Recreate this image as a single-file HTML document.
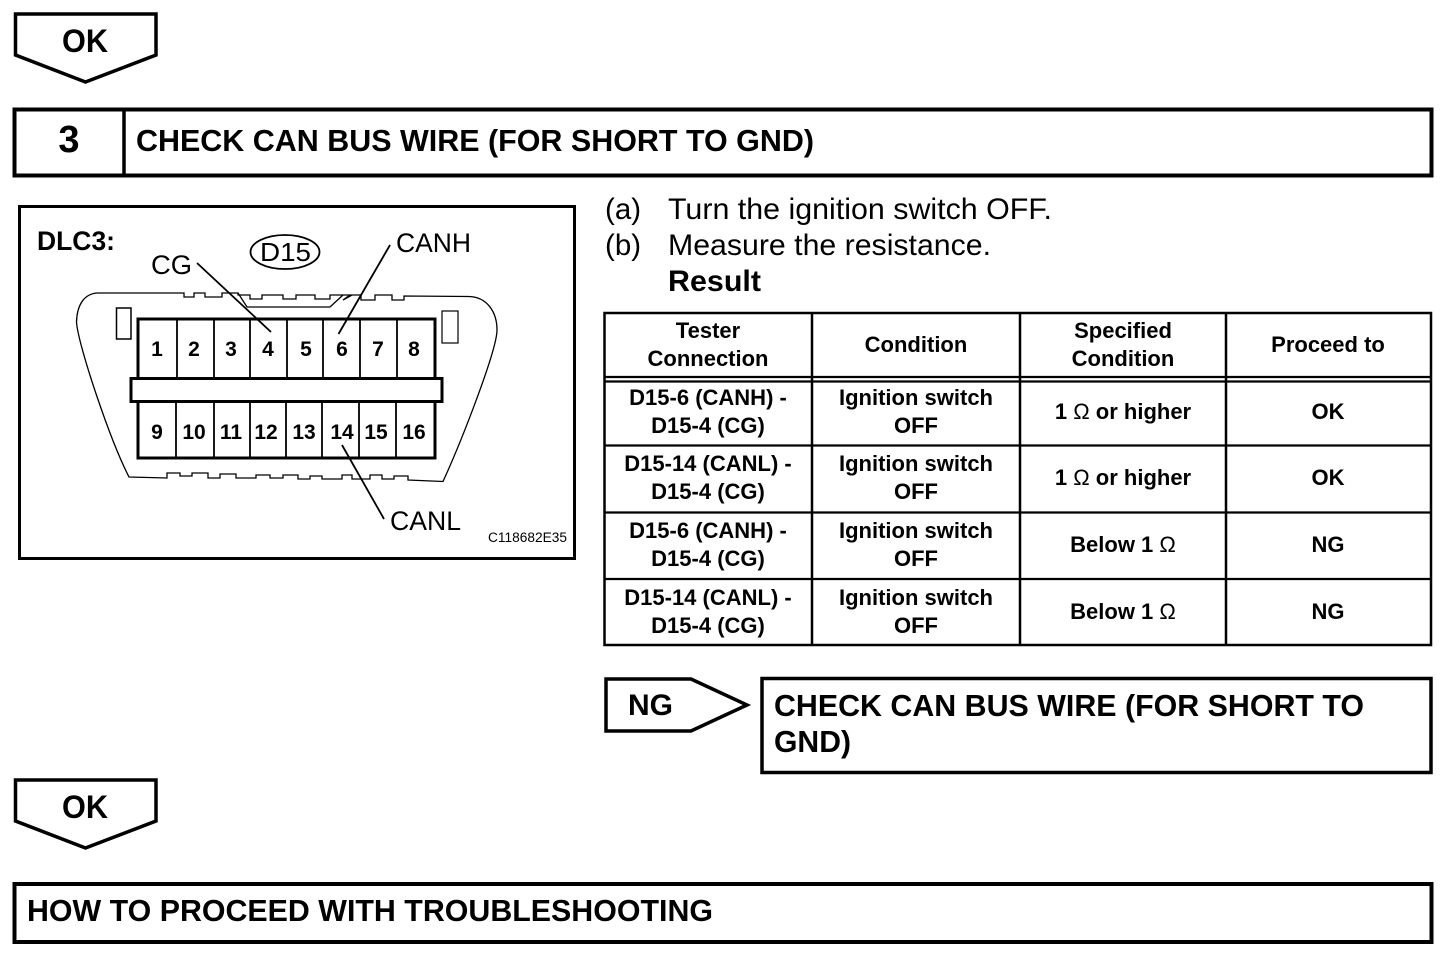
<!DOCTYPE html>
<html>
<head>
<meta charset="utf-8">
<style>
html,body{margin:0;padding:0;background:#fff}
svg{display:block}
text{font-family:"Liberation Sans",sans-serif;fill:#000}
.b{font-weight:bold}
.t{font-weight:bold;font-size:22px;text-anchor:middle}
.n{font-size:21px;text-anchor:middle;font-weight:bold}
.h{font-weight:bold;font-size:31px}
.r{font-size:29.5px}
.l{font-size:27px}
</style>
</head>
<body>
<svg width="1456" height="970" viewBox="0 0 1456 970" xmlns="http://www.w3.org/2000/svg">
<g fill="none" stroke="#000">
  <!-- OK arrows -->
  <path d="M15.5 14H156V55L85.500 82L15.500 55Z" stroke-width="3.500"/>
  <path d="M15.500 780H156V821L85.500 848L15.500 821Z" stroke-width="3.500"/>
  <!-- header -->
  <rect x="14.500" y="109.500" width="1417" height="66" stroke-width="4"/>
  <line x1="124" y1="109" x2="124" y2="176" stroke-width="3.500"/>
  <!-- diagram -->
  <rect x="19.500" y="206.500" width="555" height="352" stroke-width="3"/>
  <path d="M171 293H97C84 294 77 305 76.500 322C78 345 110 440 129 477L167 478V473H180V476H192V473H208V478H220V474H236V478H256V475H270V478H283V475H298V479H310V476H322V479H342V475H352V479H370V475H382V479H394V476H408V480L443 481.500C462 440 497 350 497 330C497 312 487 297 469 296.500L404 296V300H392V295H375V300H361V295H352L343 300L350 295H330V299H315V295H296V299H283V295H262V299H250V295H238V293H222V297H205V293H194V297H184V293H171" stroke-width="1.300"/>
  <path d="M238 293L247 307H330L343 295" stroke-width="1.300"/>
  <rect x="116.500" y="308" width="14.500" height="31" stroke-width="1.500"/>
  <rect x="442" y="311" width="16" height="32" stroke-width="1.200"/>
  <!-- connector pins -->
  <rect x="138" y="319" width="297" height="139" stroke-width="3"/>
  <path d="M177 319V378M214 319V378M250 319V378M287 319V378M323 319V378M360 319V378M397 319V378" stroke-width="1.800"/>
  <path d="M176 401V458M214 401V458M250 401V458M286 401V458M322 401V458M359 401V458M396 401V458" stroke-width="1.800"/>
  <rect x="131" y="378.500" width="311" height="23" fill="#fff" stroke-width="3"/>
  <!-- leaders -->
  <path d="M197 263L271 332M390 245L338.500 334M342 445L384 519" stroke-width="1.800"/>
  <ellipse cx="285" cy="252" rx="34.500" ry="17" stroke-width="1.800"/>
  <!-- table -->
  <rect x="604.500" y="313" width="826.500" height="332" stroke-width="2.500"/>
  <path d="M812 313V645M1020 313V645M1226 313V645" stroke-width="2.500"/>
  <path d="M604 377H1431M604 381.500H1431M604 445.500H1431M604 512.500H1431M604 579H1431" stroke-width="2.200"/>
  <!-- NG -->
  <path d="M606 679H691L747 705L691 731H606Z" stroke-width="3.500"/>
  <rect x="762" y="678.500" width="669" height="94" stroke-width="3.500"/>
  <!-- bottom -->
  <rect x="14.500" y="884" width="1417" height="58" stroke-width="4"/>
</g>

<text class="b" x="62" y="52" font-size="32" textLength="46" lengthAdjust="spacingAndGlyphs">OK</text>
<text class="b" x="62" y="818" font-size="32" textLength="46" lengthAdjust="spacingAndGlyphs">OK</text>
<text class="b" x="69" y="152" font-size="38" text-anchor="middle">3</text>
<text class="h" x="136" y="151" textLength="678" lengthAdjust="spacingAndGlyphs">CHECK CAN BUS WIRE (FOR SHORT TO GND)</text>

<text class="b" x="37" y="250" font-size="27" textLength="78" lengthAdjust="spacingAndGlyphs">DLC3:</text>
<text x="260" y="261" font-size="26" textLength="51" lengthAdjust="spacingAndGlyphs">D15</text>
<text class="l" x="151" y="274" textLength="41" lengthAdjust="spacingAndGlyphs">CG</text>
<text class="l" x="396" y="252" textLength="75" lengthAdjust="spacingAndGlyphs">CANH</text>
<text class="l" x="390" y="530" textLength="71" lengthAdjust="spacingAndGlyphs">CANL</text>
<text x="488" y="542" font-size="13.500" textLength="79" lengthAdjust="spacingAndGlyphs">C118682E35</text>

<text class="n" x="157" y="356">1</text><text class="n" x="194" y="356">2</text><text class="n" x="231" y="356">3</text><text class="n" x="268" y="356">4</text><text class="n" x="306" y="356">5</text><text class="n" x="342" y="356">6</text><text class="n" x="378" y="356">7</text><text class="n" x="414" y="356">8</text>
<text class="n" x="157" y="439">9</text><text class="n" x="194" y="439">10</text><text class="n" x="231" y="439">11</text><text class="n" x="266" y="439">12</text><text class="n" x="304" y="439">13</text><text class="n" x="342" y="439">14</text><text class="n" x="376" y="439">15</text><text class="n" x="414" y="439">16</text>

<text class="r" x="605" y="219">(a)</text>
<text class="r" x="668" y="219" textLength="384" lengthAdjust="spacingAndGlyphs">Turn the ignition switch OFF.</text>
<text class="r" x="605" y="255">(b)</text>
<text class="r" x="668" y="255" textLength="323" lengthAdjust="spacingAndGlyphs">Measure the resistance.</text>
<text class="b" x="668" y="291" font-size="29.500" textLength="93" lengthAdjust="spacingAndGlyphs">Result</text>

<text class="t" x="708" y="338">Tester</text><text class="t" x="708" y="366">Connection</text>
<text class="t" x="916" y="352">Condition</text>
<text class="t" x="1123" y="338">Specified</text><text class="t" x="1123" y="366">Condition</text>
<text class="t" x="1328" y="352">Proceed to</text>

<text class="t" x="708" y="405">D15-6 (CANH) -</text><text class="t" x="708" y="433">D15-4 (CG)</text>
<text class="t" x="916" y="405">Ignition switch</text><text class="t" x="916" y="433">OFF</text>
<text class="t" x="1123" y="419">1 <tspan font-weight="normal">Ω</tspan> or higher</text>
<text class="t" x="1328" y="419">OK</text>

<text class="t" x="708" y="471">D15-14 (CANL) -</text><text class="t" x="708" y="499">D15-4 (CG)</text>
<text class="t" x="916" y="471">Ignition switch</text><text class="t" x="916" y="499">OFF</text>
<text class="t" x="1123" y="485">1 <tspan font-weight="normal">Ω</tspan> or higher</text>
<text class="t" x="1328" y="485">OK</text>

<text class="t" x="708" y="538">D15-6 (CANH) -</text><text class="t" x="708" y="566">D15-4 (CG)</text>
<text class="t" x="916" y="538">Ignition switch</text><text class="t" x="916" y="566">OFF</text>
<text class="t" x="1123" y="552">Below 1 <tspan font-weight="normal">Ω</tspan></text>
<text class="t" x="1328" y="552">NG</text>

<text class="t" x="708" y="605">D15-14 (CANL) -</text><text class="t" x="708" y="633">D15-4 (CG)</text>
<text class="t" x="916" y="605">Ignition switch</text><text class="t" x="916" y="633">OFF</text>
<text class="t" x="1123" y="619">Below 1 <tspan font-weight="normal">Ω</tspan></text>
<text class="t" x="1328" y="619">NG</text>

<text class="b" x="628" y="715" font-size="30" textLength="45" lengthAdjust="spacingAndGlyphs">NG</text>
<text class="h" x="774" y="716" textLength="590" lengthAdjust="spacingAndGlyphs">CHECK CAN BUS WIRE (FOR SHORT TO</text>
<text class="h" x="774" y="752" textLength="77" lengthAdjust="spacingAndGlyphs">GND)</text>
<text class="h" x="27" y="921" textLength="686" lengthAdjust="spacingAndGlyphs">HOW TO PROCEED WITH TROUBLESHOOTING</text>
</svg>
</body>
</html>
